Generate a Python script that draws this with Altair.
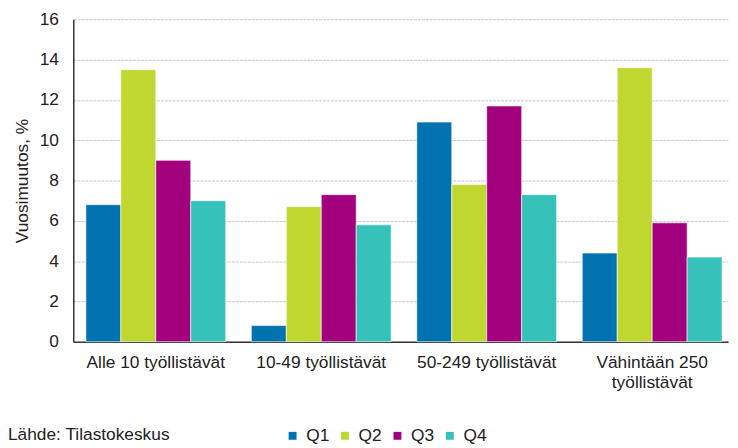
import altair as alt
import pandas as pd

categories = ["Alle 10 työllistävät", "10-49 työllistävät", "50-249 työllistävät", "Vähintään 250 työllistävät"]
quarters = ["Q1", "Q2", "Q3", "Q4"]
q1 = [6.8, 0.8, 10.9, 4.4]
q2 = [13.5, 6.7, 7.8, 13.6]
q3 = [9.0, 7.3, 11.7, 5.9]
q4 = [7.0, 5.8, 7.3, 4.2]
colors = ["#0072B0", "#C0D730", "#A3007E", "#36C2B9"]

rows = []
for series_name, vals in zip(quarters, [q1, q2, q3, q4]):
    for c, v in zip(categories, vals):
        rows.append({"cat": c, "q": series_name, "v": v})
df = pd.DataFrame(rows)

FONT = "Liberation Sans"
FS = 17.5

bars = alt.Chart(df).mark_bar(stroke="white", strokeWidth=0.6).encode(
    x=alt.X("cat:N", sort=categories, title=None,
            scale=alt.Scale(paddingInner=0.155, paddingOuter=0.056, align=0.68),
            axis=alt.Axis(labelAngle=0, ticks=False, labelPadding=12, labelFontSize=FS,
                          labelColor="#222", labelFont=FONT, domainColor="#333", domainWidth=1.5,
                          labelLimit=300, labelLineHeight=20,
                          labelExpr="datum.label == 'Vähintään 250 työllistävät' ? ['Vähintään 250', 'työllistävät'] : datum.label")),
    xOffset=alt.XOffset("q:N", sort=quarters),
    y=alt.Y("v:Q", title="Vuosimuutos, %",
            scale=alt.Scale(domain=[0, 16]),
            axis=alt.Axis(values=list(range(0, 17, 2)), ticks=False, labelPadding=15,
                          labelFontSize=FS, labelColor="#222", labelFont=FONT,
                          titleFont=FONT, titleFontSize=FS, titleFontWeight="normal",
                          titleColor="#222", titlePadding=8,
                          gridColor="#c8c8c8", gridDash=[3, 1], gridWidth=1,
                          domainColor="#333", domainWidth=1.5)),
    color=alt.Color("q:N", sort=quarters, scale=alt.Scale(domain=quarters, range=colors),
                    legend=alt.Legend(title=None, orient="none", direction="horizontal",
                                      legendX=213, legendY=412, symbolType="square",
                                      symbolSize=64, symbolStrokeWidth=0, labelFontSize=FS,
                                      labelFont=FONT, labelColor="#222", columnPadding=7,
                                      labelOffset=5)),
)

source = alt.Chart(alt.Data(values=[{"t": "Lähde: Tilastokeskus"}])).mark_text(
    align="left", baseline="middle", font=FONT, fontSize=FS, color="#222"
).encode(x=alt.value(-66), y=alt.value(420), text="t:N")

chart = alt.layer(bars, source).properties(
    width=662, height=326,
    autosize=alt.AutoSizeParams(type="none"),
    padding={"left": 66, "top": 9, "right": 2, "bottom": 104},
).configure_view(stroke=None)

chart.save("out.html", embed_options={"renderer": "svg", "actions": False})
